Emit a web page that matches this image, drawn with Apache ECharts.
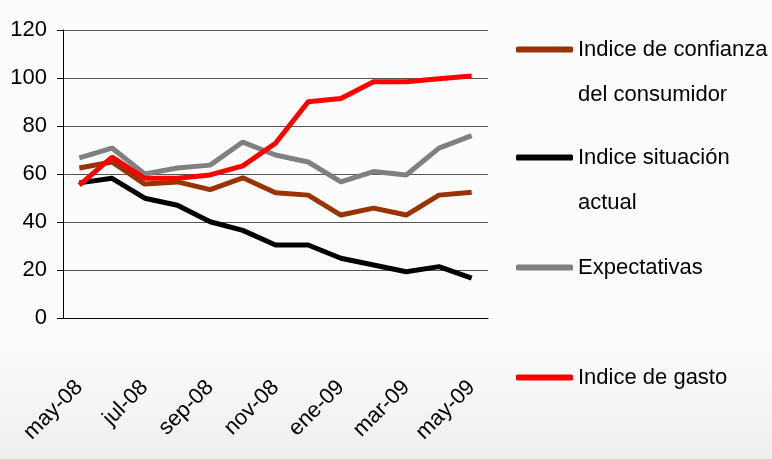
<!DOCTYPE html>
<html>
<head>
<meta charset="utf-8">
<title>Indices</title>
<script src="https://cdn.jsdelivr.net/npm/echarts@6/dist/echarts.min.js"></script>
<style>
  html, body { margin: 0; padding: 0; background: #fcfcfc; }
  #chart { width: 772px; height: 459px; }
</style>
</head>
<body>
<div id="chart"></div>
<script>
// meses
var months = ['may-08', 'jun-08', 'jul-08', 'ago-08', 'sep-08', 'oct-08', 'nov-08',
  'dic-08', 'ene-09', 'feb-09', 'mar-09', 'abr-09', 'may-09'];

// series
var confianza = [62.5, 65, 55.8, 56.7, 53.5, 58.4, 52.2, 51.2, 42.9, 45.8, 42.9, 51.2, 52.4];
var situacion = [56.3, 58.2, 49.9, 47, 40.1, 36.5, 30.4, 30.4, 24.9, 22.1, 19.3, 21.4, 16.6];
var expectativas = [66.7, 70.8, 60, 62.5, 63.7, 73.3, 67.9, 65, 56.7, 61, 59.6, 70.8, 76];
var gasto = [55.4, 67, 58.2, 58.2, 59.6, 63.4, 72.8, 90.1, 91.5, 98.4, 98.4, 99.7, 100.8];

var yTicks = [0, 20, 40, 60, 80, 100, 120];

var FONT = '"Liberation Sans Narrow", "Liberation Sans", Arial, sans-serif';

var chart = echarts.init(document.getElementById('chart'));

// una leyenda por serie, para poder colocarlas a mano
function legendItem(name, color, top) {
  return {
    orient: 'vertical',
    left: 516,
    top: top,
    padding: 0,
    icon: 'roundRect',
    itemWidth: 57,
    itemHeight: 6,
    data: [{ name: name, itemStyle: { color: color } }],
    // linea en blanco arriba: asi la primera linea queda a la altura del icono
    formatter: function (n) {
      return n.indexOf('\n') >= 0 ? '\n' + n : n;
    },
    textStyle: {
      fontFamily: FONT,
      fontSize: 22,
      color: '#000',
      lineHeight: 45
    }
  };
}

chart.setOption({
  animation: false,
  graphic: [{
    type: 'rect',
    z: -10,
    silent: true,
    shape: { x: 0, y: 0, width: 772, height: 459 },
    style: {
      fill: new echarts.graphic.LinearGradient(0, 0, 0, 1, [
        { offset: 0, color: '#fcfcfc' },
        { offset: 0.76, color: '#fbfbfb' },
        { offset: 1, color: '#eeeeee' }
      ])
    }
  }],
  grid: {
    left: 63,
    right: 284,
    top: 30,
    bottom: 141
  },
  legend: [
    legendItem('Indice de confianza\ndel consumidor', '#993300', -18),
    legendItem('Indice situación\nactual', '#000000', 90),
    legendItem('Expectativas', '#808080', 245),
    legendItem('Indice de gasto', '#ff0000', 355)
  ],
  xAxis: {
    type: 'category',
    data: months,
    boundaryGap: true,
    axisLine: { lineStyle: { color: '#000', width: 1 } },
    axisTick: { interval: 1, length: 10, lineStyle: { color: '#000' } },
    axisLabel: {
      interval: 1,
      rotate: 45,
      margin: 66,
      color: '#000',
      fontFamily: FONT,
      fontSize: 22
    },
    splitLine: { show: false }
  },
  yAxis: {
    type: 'value',
    min: yTicks[0],
    max: yTicks[yTicks.length - 1],
    interval: 20,
    axisLine: { show: true, lineStyle: { color: '#000', width: 1 } },
    axisTick: { show: true, length: 6, lineStyle: { color: '#000' } },
    axisLabel: {
      margin: 16,
      color: '#000',
      fontFamily: FONT,
      fontSize: 22
    },
    splitLine: { lineStyle: { color: '#555', width: 1 } }
  },
  series: [
    {
      name: 'Indice de confianza\ndel consumidor',
      type: 'line',
      data: confianza,
      symbol: 'none',
      lineStyle: { color: '#993300', width: 5 },
      itemStyle: { color: '#993300' }
    },
    {
      name: 'Indice situación\nactual',
      type: 'line',
      data: situacion,
      symbol: 'none',
      lineStyle: { color: '#000000', width: 5 },
      itemStyle: { color: '#000000' }
    },
    {
      name: 'Expectativas',
      type: 'line',
      data: expectativas,
      symbol: 'none',
      lineStyle: { color: '#808080', width: 5 },
      itemStyle: { color: '#808080' }
    },
    {
      name: 'Indice de gasto',
      type: 'line',
      data: gasto,
      symbol: 'none',
      lineStyle: { color: '#ff0000', width: 5 },
      itemStyle: { color: '#ff0000' }
    }
  ]
});
</script>
</body>
</html>
